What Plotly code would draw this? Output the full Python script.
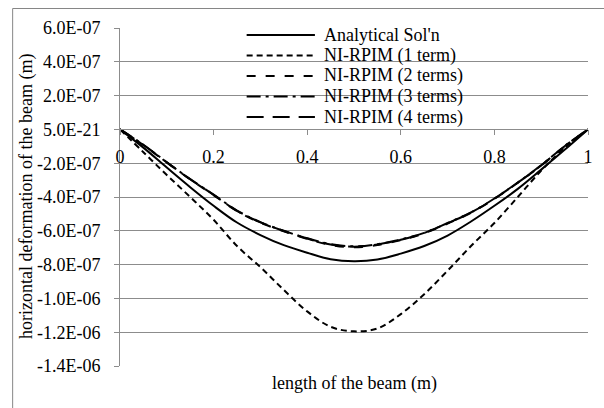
import plotly.graph_objects as go

# ---------------- data ----------------
x_pos = [0.0, 0.05, 0.1, 0.15, 0.2, 0.25, 0.3, 0.35, 0.4, 0.45, 0.5,
         0.55, 0.6, 0.65, 0.7, 0.75, 0.8, 0.85, 0.9, 0.95, 1.0]

analytical = [0, -1.08e-7, -2.26e-7, -3.42e-7, -4.52e-7, -5.51e-7, -6.25e-7, -6.85e-7,
              -7.30e-7, -7.68e-7, -7.80e-7, -7.70e-7, -7.35e-7, -6.90e-7, -6.28e-7,
              -5.45e-7, -4.52e-7, -3.52e-7, -2.38e-7, -1.21e-7, 0]

rpim_1 = [0, -1.35e-7, -2.70e-7, -4.00e-7, -5.35e-7, -6.90e-7, -8.15e-7, -9.50e-7,
          -1.077e-6, -1.168e-6, -1.195e-6, -1.178e-6, -1.093e-6, -9.75e-7, -8.36e-7,
          -6.90e-7, -5.54e-7, -4.00e-7, -2.44e-7, -1.10e-7, 0]

rpim_2 = [0, -9.3e-8, -1.96e-7, -2.96e-7, -3.89e-7, -4.83e-7, -5.52e-7, -6.03e-7,
          -6.48e-7, -6.84e-7, -6.98e-7, -6.84e-7, -6.55e-7, -6.15e-7, -5.57e-7,
          -4.93e-7, -4.11e-7, -3.16e-7, -2.14e-7, -1.01e-7, 0]

rpim_3 = [0, -9.1e-8, -1.94e-7, -2.94e-7, -3.86e-7, -4.80e-7, -5.49e-7, -6.00e-7,
          -6.44e-7, -6.79e-7, -6.92e-7, -6.79e-7, -6.51e-7, -6.12e-7, -5.54e-7,
          -4.91e-7, -4.09e-7, -3.14e-7, -2.12e-7, -9.9e-8, 0]

rpim_4 = [0, -9.2e-8, -1.95e-7, -2.95e-7, -3.87e-7, -4.82e-7, -5.50e-7, -6.01e-7,
          -6.46e-7, -6.81e-7, -6.94e-7, -6.81e-7, -6.53e-7, -6.13e-7, -5.55e-7,
          -4.92e-7, -4.10e-7, -3.15e-7, -2.13e-7, -1.00e-7, 0]

series_names = ["Analytical Sol'n", "NI-RPIM (1 term)", "NI-RPIM (2 terms)",
                "NI-RPIM (3 terms)", "NI-RPIM (4 terms)"]
series_values = [analytical, rpim_1, rpim_2, rpim_3, rpim_4]

y_tick_vals = [6e-7, 4e-7, 2e-7, 0, -2e-7, -4e-7, -6e-7, -8e-7, -1.0e-6, -1.2e-6, -1.4e-6]
y_tick_text = ["6.0E-07", "4.0E-07", "2.0E-07", "5.0E-21", "-2.0E-07", "-4.0E-07",
               "-6.0E-07", "-8.0E-07", "-1.0E-06", "-1.2E-06", "-1.4E-06"]
x_tick_vals = [0, 0.2, 0.4, 0.6, 0.8, 1.0]
x_tick_text = ["0", "0.2", "0.4", "0.6", "0.8", "1"]

x_title = "length of the beam (m)"
y_title = "horizontal deformation of the beam (m)"

# ---------------- styles ----------------
dashes = ["solid", "6px,4px", "9px,10px", "14px,5px,3px,5px", "17px,9px"]
line_w = 2
grey = "#8c8c8c"
font_family = "Liberation Serif"

fig = go.Figure()
for name, vals, dash in zip(series_names, series_values, dashes):
    fig.add_trace(go.Scatter(x=x_pos, y=vals, mode="lines", name=name,
                             line=dict(color="black", width=line_w, dash=dash,
                                       shape="spline", smoothing=1.0),
                             showlegend=False))

L, R, T, B = 120, 11, 28, 42
W, H = 604, 408
pw, ph = W - L - R, H - T - B

def px_to_paper_x(px):
    return (px - L) / pw

def py_to_paper_y(py):
    return (H - B - py) / ph

shapes = []
# outer chart border
shapes.append(dict(type="rect", xref="paper", yref="paper",
                   x0=px_to_paper_x(11.5), x1=1.06, y0=py_to_paper_y(8.5), y1=-0.25,
                   line=dict(color="#868686", width=1), fillcolor="rgba(0,0,0,0)",
                   layer="below"))
# legend background
shapes.append(dict(type="rect", xref="paper", yref="paper",
                   x0=px_to_paper_x(227), x1=1.0, y0=py_to_paper_y(125), y1=py_to_paper_y(22),
                   line=dict(width=0), fillcolor="white", layer="between"))

annotations = []
row_y = [35, 55.5, 76, 96.5, 117]
for name, dash, ry in zip(series_names, dashes, row_y):
    yy = py_to_paper_y(ry)
    shapes.append(dict(type="line", xref="paper", yref="paper",
                       x0=px_to_paper_x(248), x1=px_to_paper_x(317), y0=yy, y1=yy,
                       line=dict(color="black", width=line_w, dash=dash), layer="above"))
    annotations.append(dict(text=name, xref="paper", yref="paper",
                            x=px_to_paper_x(324), y=yy, xanchor="left", yanchor="middle",
                            showarrow=False, font=dict(family=font_family, size=18, color="black")))

annotations.append(dict(text=x_title, xref="paper", yref="paper", x=0.5,
                        y=py_to_paper_y(383), xanchor="center", yanchor="middle",
                        showarrow=False, font=dict(family=font_family, size=18, color="black")))
annotations.append(dict(text=y_title, xref="paper", yref="paper", x=px_to_paper_x(25),
                        y=0.5, xanchor="center", yanchor="middle", textangle=-90,
                        showarrow=False, font=dict(family=font_family, size=18, color="black")))

fig.update_layout(
    width=W, height=H,
    margin=dict(l=L, r=R, t=T, b=B),
    plot_bgcolor="white", paper_bgcolor="white",
    font=dict(family=font_family, size=18, color="black"),
    showlegend=False,
    shapes=shapes, annotations=annotations,
    xaxis=dict(range=[0, 1], anchor="free", position=0.7,
               tickvals=x_tick_vals, ticktext=x_tick_text,
               showgrid=False, zeroline=False, showline=True, linecolor=grey, linewidth=1,
               ticks="outside", ticklen=5, tickcolor=grey, tickwidth=1,
               ticklabelstandoff=6, tickfont=dict(family=font_family, size=18)),
    yaxis=dict(range=[-1.4e-6, 6e-7], tickvals=y_tick_vals, ticktext=y_tick_text,
               showgrid=True, gridcolor=grey, gridwidth=1, zeroline=False,
               showline=True, linecolor=grey, linewidth=1,
               ticks="outside", ticklen=5, tickcolor=grey, tickwidth=1,
               ticklabelstandoff=10, tickfont=dict(family=font_family, size=18)),
)

fig.write_html("out.html")
